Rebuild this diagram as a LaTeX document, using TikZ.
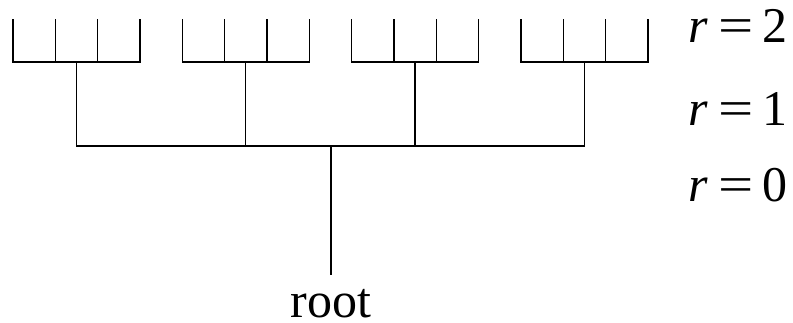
\documentclass[tikz,border=0pt]{standalone}
\usepackage{graphicx}
\usepackage{fontspec}
\setmainfont{Liberation Serif}
\begin{document}
\begin{tikzpicture}[x=0.75pt,y=-0.75pt,line width=1pt,line join=miter,line cap=rect,
  lbl/.style={font=\fontsize{37.5}{45}\selectfont,inner sep=0pt,anchor=base west}]
\useasboundingbox (0,0) rectangle (793,322);
\foreach \k in {0,1,2,3}{
  \pgfmathsetmacro{\g}{13+\k*169.33}
  \foreach \i in {0,1,2,3}{
    \coordinate (t\k\i) at ({\g+\i*42.33},20);
    \coordinate (b\k\i) at ({\g+\i*42.33},62);
  }
  \coordinate (s\k) at ({\g+63.5},62);
  \coordinate (h\k) at ({\g+63.5},146);
}
\coordinate (c0) at (331,146);
\foreach \k in {0,1,2,3}{
  \draw (t\k0) -- (b\k0) -- (b\k3) -- (t\k3);
  \draw (t\k1) -- (b\k1);
  \draw (t\k2) -- (b\k2);
  \draw (s\k) -- (h\k);
}
\draw (h0) -- (h3);
\node[lbl,anchor=base] (root) at (331,317) {root};
\draw (c0) -- ([yshift=10.5pt]root.north);
\newcommand{\req}[1]{\textit{r}\hspace{0.2em}\scalebox{1.25}[1]{=}\hspace{0.17em}#1}
\node[lbl] (r2) at (688,42) {\req{2}};
\node[lbl] (r1) at (688,125) {\req{1}};
\node[lbl] (r0) at (688,201) {\req{0}};
\end{tikzpicture}
\end{document}
